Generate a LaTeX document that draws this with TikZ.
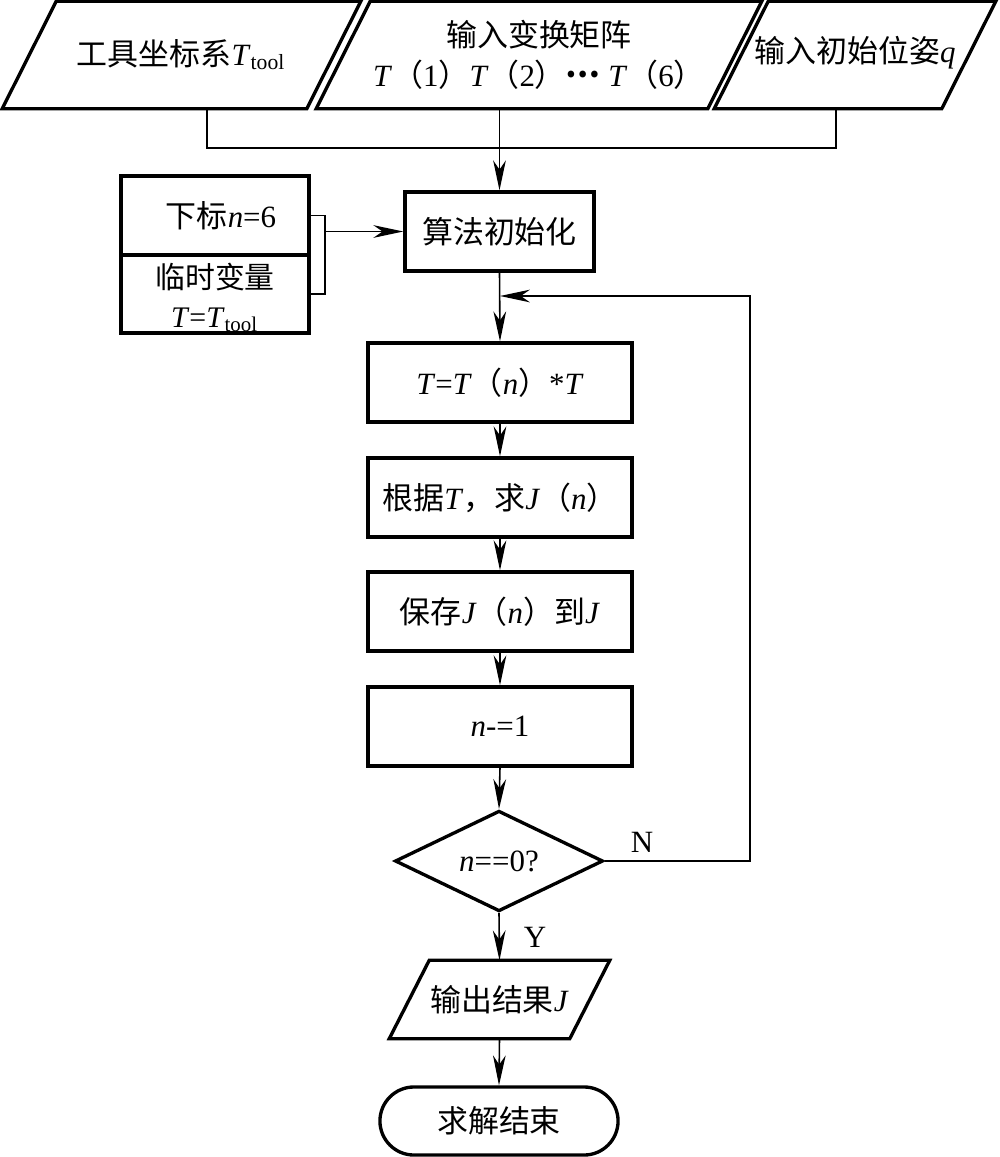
\documentclass[tikz,border=0pt]{standalone}
\usepackage{fontspec}
\setmainfont{Liberation Serif}
\newfontfamily\cjk{Noto Sans CJK SC}
\usetikzlibrary{shapes.geometric,shapes.misc,arrows.meta,positioning}
\newcommand{\zh}[1]{{\cjk #1}}
\newcommand{\vi}[1]{\textit{#1}}
% parallelogram round a node, top edge pushed right by #2
\newcommand{\slantbox}[2]{\draw[frame] ([xshift=#2]#1.north west) -- ([xshift=#2]#1.north east)
  -- ([xshift=-#2]#1.south east) -- ([xshift=-#2]#1.south west) -- cycle;}

\begin{document}
\begin{tikzpicture}[x=0.01cm,y=-0.01cm,
      font=\fontsize{8.8}{11.5}\selectfont,
      line/.style={line width=0.45pt},
      arr/.style={line,-{Stealth[length=8.5pt,width=3.6pt,inset=2.6pt]}},
      frame/.style={line width=0.95pt},
      box/.style={draw,frame,inner sep=0pt,align=center},
      proc/.style={box,minimum width=2.64cm,minimum height=0.79cm},
      io/.style={inner sep=0pt,align=center,minimum height=1.06cm}]
      \useasboundingbox (0,0) rectangle (999,1157);
      % inputs
      \node[io,minimum width=3.03cm] (tool) at (181.5,55) {\zh{工具坐标系}\vi{T}\textsubscript{tool}};
      \node[io,minimum width=3.90cm] (mat) at (539,55)
        {\zh{输入变换矩阵}\\[0pt]\vi{T}\zh{（}1\zh{）}\vi{T}\zh{（}2\zh{）}\textbf{\raisebox{0.3em}{\zh{…}}}\ \vi{T}\zh{（}6\zh{）}};
      \node[io,minimum width=2.26cm] (qin) at (855,55) {\raisebox{0.12cm}{\zh{输入初始位姿}\vi{q}}};
      \slantbox{tool}{0.27cm}
      \slantbox{mat}{0.27cm}
      \slantbox{qin}{0.27cm}
      \coordinate (jl) at (207,148);
      \coordinate (jr) at (836,148);
      \draw[line] (tool.south -| jl) -- (jl) -- (jr) -- (qin.south -| jr);
      % init
      \node[box,minimum width=1.89cm,minimum height=0.79cm] (init) at (499.5,231.5) {\zh{算法初始化}};
      \draw[arr] (mat.south -| init.north) -- (init.north);
      \node[box,minimum width=1.88cm,minimum height=0.79cm] (idx) at (215,215.5) {\hspace{0.12cm}\zh{下标}\vi{n}=6};
      \node[box,minimum width=1.88cm,minimum height=0.78cm,below=-0.95pt of idx] (tmp) {};
      \node[align=center,inner sep=0pt,yshift=-1pt,font=\fontsize{8.5}{11}\selectfont] (tmpt) at (tmp.center)
        {\zh{临时变量}\\[0pt]\vi{T}=\vi{T}\textsubscript{tool}};
      \coordinate (brk) at (325,231.5);
      \draw[line] (idx.east) -| (brk) |- (tmp.east);
      \draw[arr] (brk) -- (init.west);
      % loop body
      \node[proc] (tt) at (500,382.5) {\vi{T}=\vi{T}\zh{（}\vi{n}\zh{）}*\vi{T}};
      \node[proc] (jac) at (500,497.5) {\zh{根据}\vi{T}\zh{，求}\vi{J}\zh{（}\vi{n}\zh{）}};
      \node[proc] (save) at (500,611.5) {\zh{保存}\vi{J}\zh{（}\vi{n}\zh{）到}\vi{J}};
      \node[proc] (dec) at (500,726.5) {\vi{n}-=1};
      \node[box,diamond,minimum width=2.08cm,minimum height=0.99cm] (chk) at (499,861) {\vi{n}==0?};
      \node[io,minimum width=1.79cm,minimum height=0.77cm] (out) at (499.5,999.5) {\zh{输出结果}\vi{J}};
      \slantbox{out}{0.2cm}
      \node[box,rounded rectangle,minimum width=2.38cm,minimum height=0.68cm] (fin) at (499,1121) {\zh{求解结束}};
      \node (nlab) at (642,842) {N};
      \node (ylab) at (535,937) {Y};
      \draw[arr] (init.south) -- (tt.north);
      \draw[arr] (tt.south) -- (jac.north);
      \draw[arr] (jac.south) -- (save.north);
      \draw[arr] (save.south) -- (dec.north);
      \draw[arr] (dec.south) -- (chk.north);
      \draw[arr] (chk.south) -- (out.north);
      \draw[arr] (out.south) -- (fin.north);
      \coordinate (turn) at (750,861);
      \coordinate (ret) at (500,296);
      \draw[arr] (chk.east) -- (turn) |- (ret);
     \end{tikzpicture}
\end{document}
